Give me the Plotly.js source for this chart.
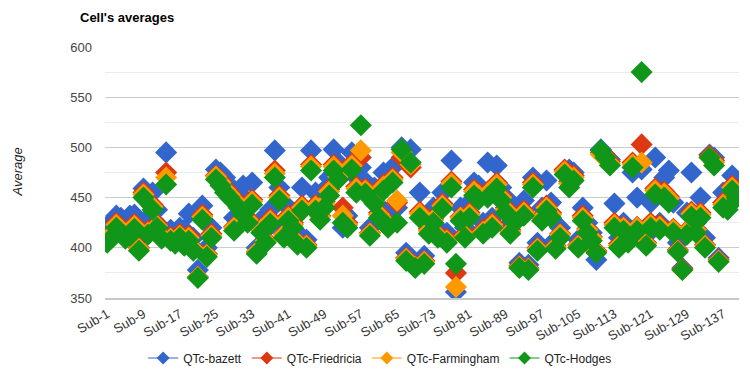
<!DOCTYPE html>
<html>
<head>
<meta charset="utf-8">
<script src="https://cdn.plot.ly/plotly-3.0.1.min.js"></script>
<style>
  html, body { margin: 0; padding: 0; background: #fff; }
  #chart { width: 750px; height: 376px; }
</style>
</head>
<body>
<div id="chart"></div>
<script>
// Subjects Sub-1 ... Sub-140
const subjects = [];
for (let i = 1; i <= 140; i++) subjects.push('Sub-' + i);

// Every eighth subject is labelled on the axis
const tickSubjects = subjects.filter((s, i) => i % 8 === 0);

const qtcBazett = [
  422, 425, 432, 430, 420, 432, 433, 410, 459, 430,
  455, 438, 420, 495, 418, 415, 420, 418, 434, 410,
  378, 442, 400, 420, 478, 475, 470, 462, 430, 455,
  462, 440, 465, 400, 428, 418, 438, 497, 460, 420,
  440, 435, 415, 460, 408, 497, 455, 440, 458, 470,
  498, 485, 420, 432, 495, 470, 480, 466, 420, 460,
  442, 475, 430, 480, 440, 500, 395, 498, 385, 455,
  392, 430, 440, 420, 455, 415, 487, 356, 440, 420,
  445, 465, 462, 425, 485, 430, 482, 460, 450, 425,
  440, 385, 447, 383, 470, 405, 440, 467, 445, 408,
  420, 477, 478, 475, 408, 440, 425, 415, 388, 498,
  492, 488, 444, 410, 425, 415, 475, 450, 478, 412,
  445, 490, 425, 470, 477, 445, 405, 380, 435, 475,
  425, 450, 410, 493, 490, 390, 455, 450, 472, 462
];

const qtcFriedricia = [
  409, 415, 425, 420, 413, 417, 424, 400, 455, 417,
  443, 424, 412, 475, 411, 408, 414, 405, 412, 400,
  371, 433, 394, 414, 472, 467, 460, 455, 421, 445,
  438, 430, 448, 396, 419, 408, 429, 477, 452, 414,
  432, 425, 406, 442, 403, 483, 443, 432, 446, 458,
  483, 473, 440, 425, 484, 461, 490, 459, 415, 449,
  435, 463, 425, 470, 445, 490, 390, 480, 382, 436,
  387, 419, 430, 414, 444, 409, 466, 375, 431, 414,
  435, 458, 454, 418, 456, 425, 465, 452, 440, 418,
  430, 382, 437, 380, 465, 400, 432, 442, 435, 402,
  414, 478, 466, 472, 403, 432, 419, 411, 397, 495,
  492, 486, 425, 404, 421, 408, 485, 421, 503, 405,
  425, 459, 423, 456, 451, 419, 398, 379, 417, 436,
  419, 435, 403, 492, 487, 388, 445, 443, 462, 455
];

const qtcFarmingham = [
  408, 413, 423, 418, 411, 415, 422, 399, 453, 415,
  441, 422, 411, 470, 409, 406, 412, 404, 410, 399,
  371, 431, 393, 412, 471, 465, 458, 453, 420, 443,
  436, 428, 446, 396, 418, 407, 427, 474, 450, 413,
  430, 423, 405, 440, 402, 481, 441, 431, 444, 456,
  481, 471, 432, 423, 482, 459, 497, 457, 414, 447,
  433, 461, 423, 468, 447, 495, 389, 483, 381, 434,
  386, 417, 428, 412, 442, 407, 464, 361, 430, 412,
  433, 456, 452, 416, 454, 423, 463, 450, 438, 416,
  428, 381, 435, 379, 463, 399, 430, 440, 433, 401,
  413, 476, 464, 470, 402, 430, 418, 410, 396, 493,
  490, 484, 423, 402, 420, 407, 483, 420, 485, 404,
  423, 457, 421, 454, 449, 418, 397, 378, 416, 434,
  418, 433, 402, 490, 485, 387, 443, 441, 460, 453
];

const qtcHodges = [
  405, 410, 420, 415, 409, 412, 419, 397, 450, 413,
  438, 420, 409, 463, 407, 404, 410, 402, 407, 397,
  370, 428, 391, 410, 468, 462, 455, 450, 417, 440,
  433, 425, 443, 394, 415, 405, 424, 470, 447, 410,
  427, 420, 403, 437, 400, 477, 437, 428, 440, 452,
  477, 468, 425, 420, 478, 455, 522, 454, 412, 444,
  430, 457, 420, 465, 425, 498, 387, 485, 380, 430,
  384, 414, 425, 410, 439, 405, 460, 384, 427, 410,
  430, 452, 448, 414, 450, 420, 459, 447, 435, 414,
  425, 380, 432, 378, 460, 397, 427, 437, 430, 399,
  410, 473, 460, 467, 400, 427, 415, 407, 395, 497,
  490, 482, 420, 400, 417, 405, 480, 417, 575, 402,
  420, 453, 418, 450, 445, 415, 396, 378, 413, 431,
  415, 430, 400, 490, 482, 386, 440, 438, 457, 450
];

const seriesNames = ['QTc-bazett', 'QTc-Friedricia', 'QTc-Farmingham', 'QTc-Hodges'];
const seriesValues = [qtcBazett, qtcFriedricia, qtcFarmingham, qtcHodges];
const seriesColors = ['#3366cc', '#dc3912', '#ff9900', '#109618'];

const traces = [];
// Scatter of diamonds, one trace per correction formula
seriesValues.forEach((vals, k) => {
  traces.push({
    type: 'scatter',
    mode: 'markers',
    x: subjects,
    y: vals,
    name: seriesNames[k],
    legendgroup: seriesNames[k],
    showlegend: false,
    marker: { symbol: 'diamond', size: 17, color: seriesColors[k], line: { width: 0 } },
    hoverinfo: 'x+y+name'
  });
});
// Legend entries: diamond with a short line through it
seriesNames.forEach((name, k) => {
  traces.push({
    type: 'scatter',
    mode: 'lines+markers',
    x: [null],
    y: [null],
    name: name,
    legendgroup: name,
    showlegend: true,
    line: { color: seriesColors[k], width: 1 },
    marker: { symbol: 'diamond', size: 10, color: seriesColors[k] }
  });
});

const font = 'Liberation Sans, Arial, sans-serif';

const layout = {
  width: 750,
  height: 376,
  margin: { l: 105, r: 11, t: 47, b: 78 },
  paper_bgcolor: '#ffffff',
  plot_bgcolor: '#ffffff',
  font: { family: font, size: 13, color: '#222' },
  title: {
    text: "Cell's averages",
    font: { family: font, size: 13, color: '#000', weight: 'bold' },
    xref: 'container', yref: 'container',
    x: 80 / 750, xanchor: 'left',
    y: 1 - 17 / 376, yanchor: 'middle'
  },
  showlegend: true,
  legend: {
    orientation: 'h',
    xref: 'paper', yref: 'container',
    x: 0.434, xanchor: 'center',
    y: 1 - 358 / 376, yanchor: 'middle',
    font: { family: font, size: 12, color: '#222' },
    itemwidth: 30,
    traceorder: 'normal'
  },
  xaxis: {
    type: 'category',
    categoryorder: 'array',
    categoryarray: subjects,
    range: [-0.5, 139.5],
    tickmode: 'array',
    tickvals: tickSubjects,
    ticktext: tickSubjects,
    tickangle: -30,
    tickfont: { family: font, size: 13, color: '#333' },
    showgrid: false,
    zeroline: false,
    showline: true,
    linecolor: '#c8c8c8',
    linewidth: 1.5,
    ticks: '',
    ticklabelstandoff: 2,
    automargin: false,
    fixedrange: true
  },
  yaxis: {
    range: [350, 600],
    tickmode: 'linear',
    tick0: 350,
    dtick: 50,
    tickfont: { family: font, size: 13, color: '#444' },
    showgrid: true,
    gridcolor: '#cccccc',
    gridwidth: 1,
    minor: { dtick: 25, showgrid: true, gridcolor: '#ebebeb', gridwidth: 1 },
    zeroline: false,
    showline: false,
    ticks: '',
    ticklabelstandoff: 12,
    automargin: false,
    fixedrange: true
  },
  annotations: [{
    text: 'Average',
    xref: 'paper', yref: 'paper',
    x: (17 - 105) / 634, y: 0.5,
    xanchor: 'center', yanchor: 'middle',
    textangle: -90,
    showarrow: false,
    font: { family: font, size: 13, color: '#222', style: 'italic' }
  }],
  hovermode: 'closest'
};

Plotly.newPlot('chart', traces, layout, { displayModeBar: false });
</script>
</body>
</html>
